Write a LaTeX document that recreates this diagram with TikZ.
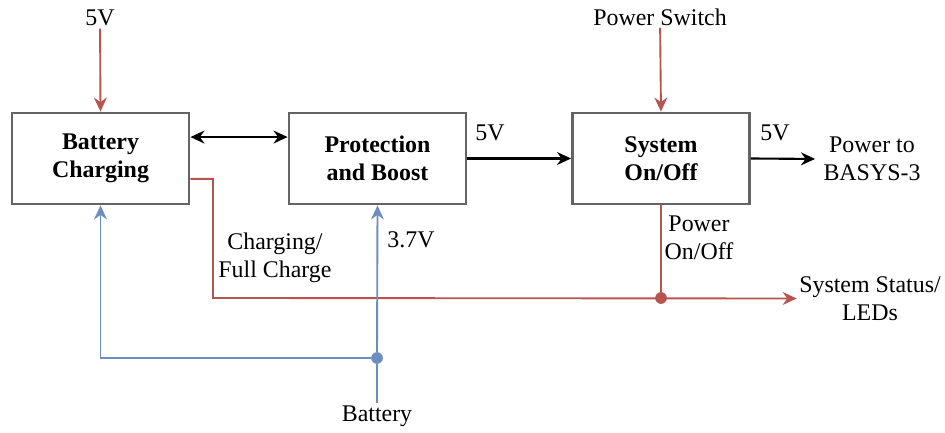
\documentclass[tikz,border=0pt]{standalone}
\usepackage{fontspec}
\setmainfont{Liberation Serif}
\usepackage{tikz}
\usetikzlibrary{arrows.meta}
\definecolor{redc}{RGB}{184,84,80}
\definecolor{bluec}{RGB}{108,142,191}
\definecolor{boxc}{RGB}{100,100,100}

\newcommand{\txtsize}{\fontsize{20.4}{23.8}\selectfont\rmfamily}

\tikzset{
  blockbox/.style={draw=boxc, line width=2.4pt, minimum width=5.31cm, minimum height=2.73cm,
    align=center, font=\txtsize\bfseries},
  lbl/.style={align=center, inner sep=2pt},
  tip/.style={-{Stealth[length=12pt,width=11pt]}},
  redline/.style={redc, line width=1.6pt},
  blueline/.style={bluec, line width=1.6pt},
  blkline/.style={black, line width=1.8pt},
  jdot/.style={circle, inner sep=0pt, minimum size=10pt}
}

\begin{document}
\begin{tikzpicture}[x=0.03cm, y=-0.03cm, font=\txtsize]
  \useasboundingbox (0,0) rectangle (945,433);
  % blocks
  \node[blockbox] (chg) at (100.5,158.5) {Battery\\Charging};
  \node[blockbox] (pb) at (377.5,158.5) {Protection\\and Boost};
  \node[blockbox] (sys) at (661,158.5) {System\\On/Off};
  % inputs and outputs
  \node[lbl] (in5) at (100,18) {5V};
  \node[lbl] (psw) at (660,17) {Power Switch};
  \node[lbl] (out) at (872,159) {Power to\\BASYS-3};
  \node[lbl] (sts) at (870,298.5) {System Status/\\LEDs};
  \node[lbl] (bat) at (377,416) {Battery};
  % junctions
  \node[jdot, fill=redc] (dotR) at (661,298) {};
  \node[jdot, fill=bluec] (dotB) at (377,358) {};
  \coordinate (busL) at (213,298);
  % power path
  \draw[redline, tip] (in5) -- (chg.north);
  \draw[redline, tip] (psw) -- (sys.north);
  \draw[blkline, {Stealth[length=12pt,width=11pt]}-{Stealth[length=12pt,width=11pt]}]
    ([yshift=18.3pt]chg.east) -- ([yshift=18.3pt]pb.west);
  \draw[blkline, tip] (pb.east) -- (sys.west);
  \draw[blkline, tip, shorten >=5pt] (sys.east) -- (out.west);
  \node[lbl] at (490,133) {5V};
  \node[lbl] at (775,133) {5V};
  % status
  \draw[redline, tip] ([yshift=-17.4pt]chg.east) -| (busL) -- (sts.west);
  \draw[redline] (sys.south) -- (dotR);
  \node[lbl] at (275,258) {Charging/\\Full Charge};
  \node[lbl] at (699,238) {Power\\On/Off};
  % battery
  \draw[blueline] (bat) -- (dotB);
  \draw[blueline, tip] (dotB) -- (pb.south);
  \draw[blueline, tip] (dotB) -| (chg.south);
  \node[lbl] at (411,240) {3.7V};
\end{tikzpicture}
\end{document}
